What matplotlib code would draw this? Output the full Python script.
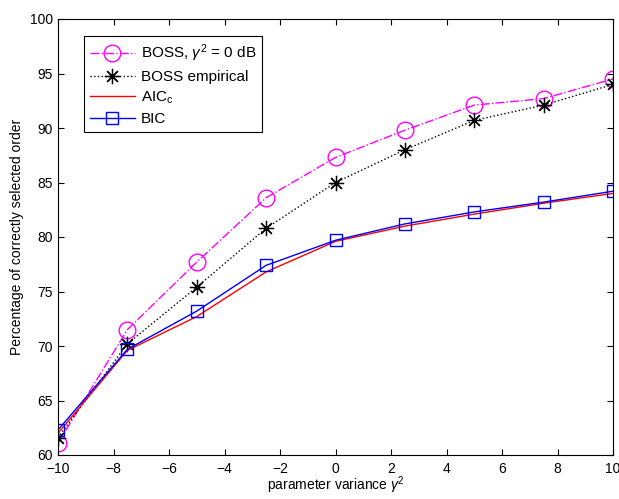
import matplotlib
matplotlib.use("Agg")
import matplotlib.pyplot as plt

plt.rcParams['font.family'] = ['Liberation Sans', 'DejaVu Sans']
plt.rcParams['mathtext.fontset'] = 'custom'
plt.rcParams['mathtext.rm'] = 'Liberation Sans'
plt.rcParams['mathtext.it'] = 'Liberation Sans:italic'

x = [-10, -7.5, -5, -2.5, 0, 2.5, 5, 7.5, 10]
boss_0db = [61.1, 71.5, 77.7, 83.6, 87.3, 89.8, 92.1, 92.7, 94.5]
boss_emp = [61.6, 70.2, 75.4, 80.8, 85.0, 88.0, 90.7, 92.1, 94.0]
aicc = [62.0, 69.6, 72.7, 76.8, 79.6, 81.0, 82.1, 83.1, 84.0]
bic = [62.3, 69.7, 73.2, 77.4, 79.7, 81.2, 82.3, 83.2, 84.2]
xtick_labels = ['\u221210', '\u22128', '\u22126', '\u22124', '\u22122', '0', '2', '4', '6', '8', '10']

fig = plt.figure(figsize=(6.19, 4.99), dpi=100)
ax = fig.add_axes([58/619, 1 - 455/499, (613-58)/619, (455-19)/499])

ax.plot(x, boss_0db, color='#ff00ff', linestyle='-.', lw=1.0, marker='o',
        markersize=12, markerfacecolor='none', markeredgecolor='#ff00ff',
        label=r'BOSS, $\gamma^2$ = 0 dB')
ax.plot(x, boss_emp, color='black', linestyle=':', lw=1.0, marker=(8, 2, 0),
        markersize=11, markeredgewidth=0.9, label='BOSS empirical')
ax.plot(x, aicc, color='red', linestyle='-', lw=1.0, label=r'AIC$_\mathrm{c}$')
ax.plot(x, bic, color='blue', linestyle='-', lw=1.0, marker='s',
        markersize=9, markerfacecolor='none', markeredgecolor='blue', label='BIC')

ax.set_xlim(-10, 10)
ax.set_ylim(60, 100)
ax.set_xticks(range(-10, 11, 2))
ax.set_yticks(range(60, 101, 5))
ax.set_xticklabels(xtick_labels)
ax.tick_params(direction='in', top=True, right=True, labelsize=10, length=4)
ax.tick_params(axis='x', pad=5)
ax.set_xlabel(r'parameter variance $\gamma^2$', fontsize=10, labelpad=-1)
ax.set_ylabel('Percentage of correctly selected order', fontsize=10, labelpad=4)

leg = ax.legend(loc='upper left', bbox_to_anchor=(0.047, 0.96), fontsize=11,
                fancybox=False, edgecolor='black', framealpha=1,
                handlelength=2.9, handletextpad=0.4, borderaxespad=0,
                labelspacing=0.38)
leg.get_frame().set_linewidth(0.8)

fig.savefig('out.png', dpi=100)
